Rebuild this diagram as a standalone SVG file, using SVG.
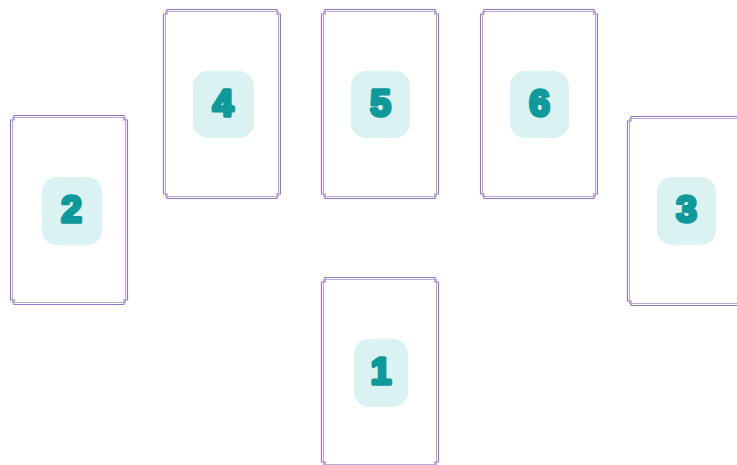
<svg xmlns="http://www.w3.org/2000/svg" width="737" height="465" viewBox="0 0 737 465">
<style>
.outer{fill:none;stroke:#9479c2;stroke-width:1.2}
.inner{fill:none;stroke:#bba7dc;stroke-width:1}
.badge{fill:#dbf2f2}
.num{font-family:"Liberation Sans",Arial,sans-serif;font-weight:bold;font-size:37px;fill:#10999a;stroke:#10999a;stroke-width:3.6;stroke-linejoin:round;text-anchor:middle}
</style>
<defs>
<g id="frame">
<path class="outer" d="M0.5,5 H4 V0.5 H114 V5 H117.5 V185 H114 V189.5 H4 V185 H0.5 Z"/>
<rect class="inner" x="2.5" y="2.5" width="113" height="185"/>
</g>
</defs>
<rect width="737" height="465" fill="#ffffff"/>
<g id="card-2" transform="translate(10,115)">
<use href="#frame"/>
<rect class="badge" x="32" y="62" width="60" height="68" rx="15"/>
<text class="num" x="61.5" y="107">2</text>
</g>
<g id="card-4" transform="translate(163,9)">
<use href="#frame"/>
<rect class="badge" x="30" y="62" width="61" height="67" rx="15"/>
<text class="num" x="60" y="107">4</text>
</g>
<g id="card-5" transform="translate(321,9)">
<use href="#frame"/>
<rect class="badge" x="30" y="62" width="59" height="67" rx="15"/>
<text class="num" x="59.5" y="107">5</text>
</g>
<g id="card-6" transform="translate(480,9)">
<use href="#frame"/>
<rect class="badge" x="30" y="62" width="59" height="67" rx="15"/>
<text class="num" x="59.5" y="107">6</text>
</g>
<g id="card-3" transform="translate(627,116)">
<use href="#frame"/>
<rect class="badge" x="30" y="61" width="59" height="68" rx="15"/>
<text class="num" x="59.5" y="106">3</text>
</g>
<g id="card-1" transform="translate(321,277)">
<use href="#frame"/>
<rect class="badge" x="33" y="62" width="54" height="68" rx="15"/>
<text class="num" x="60" y="107">1</text>
</g>
<g id="connectors"></g>
</svg>
